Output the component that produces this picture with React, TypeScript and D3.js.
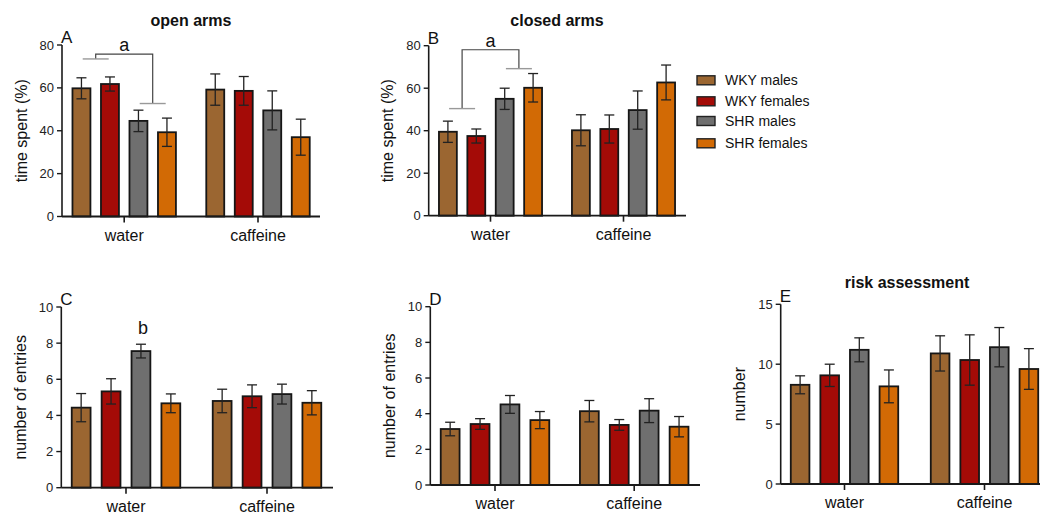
import React from 'react';
import * as d3 from 'd3';

// ---------- data ----------
const groups = ['water', 'caffeine'];
const series = ['WKY males', 'WKY females', 'SHR males', 'SHR females'];
const colors = ['#9b6631', '#a40b07', '#6f6f6f', '#d26a05'];

// [group][series]
const openArmsMean = [[59.8, 61.8, 44.6, 39.3], [59.2, 58.6, 49.5, 37.0]];
const openArmsErr = [[4.9, 3.3, 5.0, 6.6], [7.3, 6.7, 9.1, 8.4]];

const closedArmsMean = [[39.5, 37.5, 55.0, 60.2], [40.2, 40.8, 49.7, 62.7]];
const closedArmsErr = [[5.0, 3.3, 5.0, 6.7], [7.3, 6.6, 9.0, 8.2]];

const openEntriesMean = [[4.43, 5.33, 7.56, 4.67], [4.8, 5.06, 5.18, 4.7]];
const openEntriesErr = [[0.78, 0.7, 0.38, 0.52], [0.65, 0.63, 0.55, 0.67]];

const closedEntriesMean = [[3.14, 3.42, 4.52, 3.64], [4.14, 3.37, 4.17, 3.27]];
const closedEntriesErr = [[0.38, 0.3, 0.5, 0.48], [0.6, 0.3, 0.67, 0.57]];

const riskMean = [[8.28, 9.07, 11.2, 8.15], [10.9, 10.35, 11.42, 9.6]];
const riskErr = [[0.75, 0.93, 1.0, 1.37], [1.47, 2.1, 1.64, 1.7]];

const ticksPct = [0, 20, 40, 60, 80];
const ticksEntries = [0, 2, 4, 6, 8, 10];
const ticksRisk = [0, 5, 10, 15];

// significance brackets: [topValue, leftPairValue, rightPairValue]
const bracketOpen = [75.7, 73.5, 52.7];
const bracketClosed = [78.1, 50.4, 69.2];
const letterEntriesValue = 8.5; // 'b' above SHR males water

const FONT = '"Liberation Sans", Arial, Helvetica, sans-serif';

type Cfg = {
  letter: string;
  title?: string;
  titleX?: number;
  titleY?: number;
  ylabel: string;
  mean: number[][];
  err: number[][];
  max: number;
  ticks: number[];
  axisX: number;
  axisRight: number;
  y0: number;
  yTop: number;
  groupRange: [number, number];
  step: number;
  bracket?: number[];
  bLetter?: boolean;
};

const panels: Cfg[] = [
  {
    letter: 'A', title: 'open arms', titleX: 191, titleY: 26, ylabel: 'time spent (%)',
    mean: openArmsMean, err: openArmsErr, max: 80, ticks: ticksPct,
    axisX: 62, axisRight: 320, y0: 216.5, yTop: 45, groupRange: [124.2, 258], step: 28.5,
    bracket: bracketOpen,
  },
  {
    letter: 'B', title: 'closed arms', titleX: 557, titleY: 26, ylabel: 'time spent (%)',
    mean: closedArmsMean, err: closedArmsErr, max: 80, ticks: ticksPct,
    axisX: 428.7, axisRight: 686, y0: 215.7, yTop: 45.7, groupRange: [490.5, 623.5], step: 28.4,
    bracket: bracketClosed,
  },
  {
    letter: 'C', ylabel: 'number of entries',
    mean: openEntriesMean, err: openEntriesErr, max: 10, ticks: ticksEntries,
    axisX: 61.3, axisRight: 333, y0: 487.7, yTop: 307, groupRange: [126, 267], step: 29.9,
    bLetter: true,
  },
  {
    letter: 'D', ylabel: 'number of entries',
    mean: closedEntriesMean, err: closedEntriesErr, max: 10, ticks: ticksEntries,
    axisX: 430.3, axisRight: 700, y0: 485, yTop: 306.7, groupRange: [495, 634.2], step: 29.9,
  },
  {
    letter: 'E', title: 'risk assessment', titleX: 907, titleY: 288, ylabel: 'number',
    mean: riskMean, err: riskErr, max: 15, ticks: ticksRisk,
    axisX: 780.7, axisRight: 1040, y0: 484, yTop: 304.3, groupRange: [844.5, 984.5], step: 29.6,
  },
];

const PAD = 0.37;

function Panel({ c }: { c: Cfg }) {
  const y = d3.scaleLinear().domain([0, c.max]).range([c.y0, c.yTop]);
  const gx = d3.scalePoint<string>().domain(groups).range(c.groupRange);
  const sx = d3
    .scaleBand<string>()
    .domain(series)
    .range([-2 * c.step, 2 * c.step])
    .paddingInner(PAD)
    .paddingOuter(PAD / 2);
  const bw = sx.bandwidth();
  const cx = (g: number, s: number) => (gx(groups[g]) as number) + (sx(series[s]) as number) + bw / 2;
  const cap = 5;

  const els: React.ReactNode[] = [];

  // bars
  groups.forEach((g, gi) => {
    series.forEach((s, si) => {
      const m = c.mean[gi][si];
      const e = c.err[gi][si];
      const x = cx(gi, si);
      els.push(
        <rect key={`b${gi}${si}`} x={x - bw / 2} y={y(m)} width={bw} height={y(0) - y(m)}
          fill={colors[si]} stroke="#161616" strokeWidth={1.8} />
      );
      els.push(
        <g key={`e${gi}${si}`} stroke="#222" strokeWidth={1.3}>
          <line x1={x} x2={x} y1={y(m + e)} y2={y(m - e)} />
          <line x1={x - cap} x2={x + cap} y1={y(m + e)} y2={y(m + e)} />
          <line x1={x - cap} x2={x + cap} y1={y(m - e)} y2={y(m - e)} />
        </g>
      );
    });
  });

  // brackets
  if (c.bracket) {
    const [top, lv, rv] = c.bracket;
    const lx = (cx(0, 0) + cx(0, 1)) / 2;
    const rx = (cx(0, 2) + cx(0, 3)) / 2;
    const hw = 13;
    els.push(
      <g key="br" fill="none">
        <path d={`M${lx},${y(lv)}V${y(top)}H${rx}V${y(rv)}`} stroke="#444" strokeWidth={1.2} />
        <line x1={lx - hw} x2={lx + hw} y1={y(lv)} y2={y(lv)} stroke="#999" strokeWidth={1.4} />
        <line x1={rx - hw} x2={rx + hw} y1={y(rv)} y2={y(rv)} stroke="#999" strokeWidth={1.4} />
        <text x={(lx + rx) / 2} y={y(top) - 3} textAnchor="middle" fontSize={18} fill="#111"
          fontFamily={FONT}>a</text>
      </g>
    );
  }
  if (c.bLetter) {
    els.push(
      <text key="bl" x={cx(0, 2) + 2} y={y(letterEntriesValue)} textAnchor="middle" fontSize={18}
        fill="#111" fontFamily={FONT}>b</text>
    );
  }

  return (
    <g fontFamily={FONT}>
      {els}
      {/* y axis */}
      <line x1={c.axisX} x2={c.axisX} y1={c.y0} y2={c.yTop} stroke="#1a1a1a" strokeWidth={1.6} />
      {c.ticks.map((t) => (
        <g key={`t${t}`}>
          <line x1={c.axisX - 5} x2={c.axisX} y1={y(t)} y2={y(t)} stroke="#1a1a1a" strokeWidth={1.4} />
          <text x={c.axisX - 8} y={y(t)} dy="0.35em" textAnchor="end" fontSize={13} fill="#222">{t}</text>
        </g>
      ))}
      {/* x axis */}
      <line x1={c.axisX} x2={c.axisRight} y1={c.y0} y2={c.y0} stroke="#1a1a1a" strokeWidth={1.8} />
      {groups.map((g) => (
        <g key={g}>
          <line x1={gx(g)} x2={gx(g)} y1={c.y0} y2={c.y0 + 6} stroke="#1a1a1a" strokeWidth={1.6} />
          <text x={gx(g)} y={c.y0 + 24} textAnchor="middle" fontSize={16} fill="#111">{g}</text>
        </g>
      ))}
      {/* y label */}
      <text transform={`translate(${c.axisX - 41},${(c.y0 + c.yTop) / 2}) rotate(-90)`}
        textAnchor="middle" dy="0.35em" fontSize={16} fill="#111">{c.ylabel}</text>
      {/* panel letter */}
      <text x={c.axisX - 1} y={c.yTop - 2} fontSize={17} fill="#111">{c.letter}</text>
      {c.title && (
        <text x={c.titleX} y={c.titleY} textAnchor="middle" fontSize={16} fontWeight="bold" fill="#111">
          {c.title}
        </text>
      )}
    </g>
  );
}

const legendRows = [80.3, 101.3, 121, 143.3];

function Legend() {
  return (
    <g fontFamily={FONT}>
      {series.map((s, i) => (
        <g key={s}>
          <rect x={697} y={legendRows[i] - 4.5} width={18} height={9} fill={colors[i]} stroke="#222" strokeWidth={1.4} />
          <text x={725} y={legendRows[i]} dy="0.35em" fontSize={14} fill="#111">{s}</text>
        </g>
      ))}
    </g>
  );
}

export default function App() {
  return (
    <svg width={1040} height={514} style={{ position: 'absolute', left: 0, top: 0, background: '#fff' }}>
      <rect width={1040} height={514} fill="#fff" />
      {panels.map((p) => (
        <Panel key={p.letter} c={p} />
      ))}
      <Legend />
    </svg>
  );
}
